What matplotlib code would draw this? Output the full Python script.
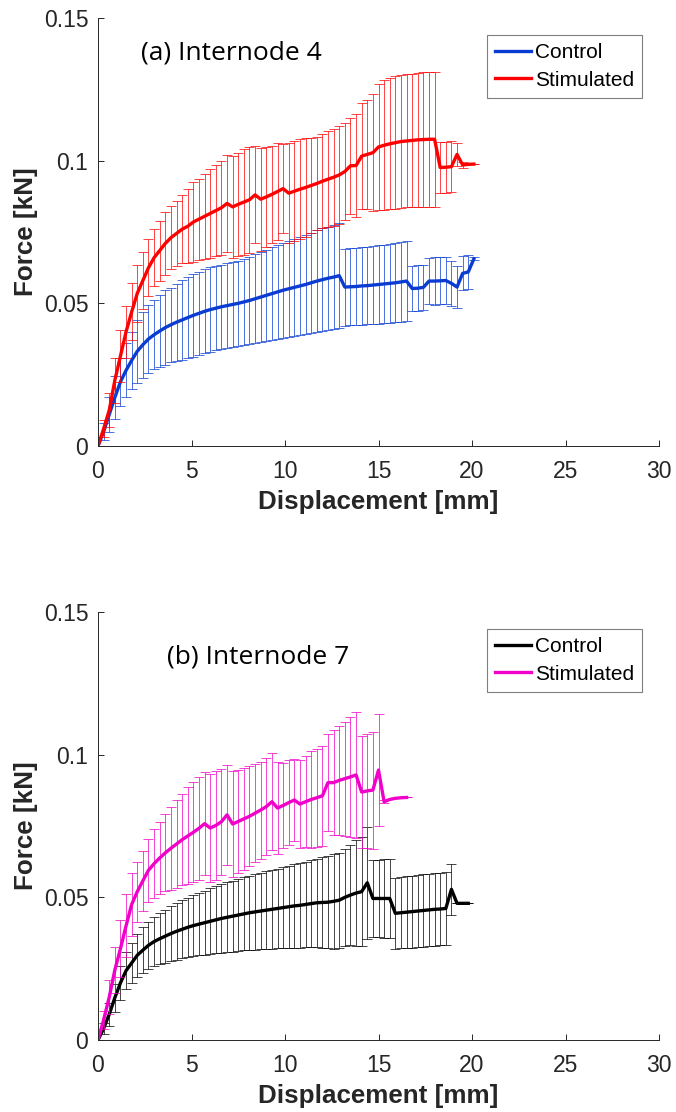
import matplotlib
matplotlib.use("Agg")
from matplotlib import pyplot as plt

# displacement grid [mm]
disp_a = [0.0, 0.3, 0.6, 0.9, 1.2, 1.5, 1.8, 2.1, 2.4, 2.7,
          3.0, 3.3, 3.6, 3.9, 4.2, 4.5, 4.8, 5.1, 5.4, 5.7,
          6.0, 6.3, 6.6, 6.9, 7.2, 7.5, 7.8, 8.1, 8.4, 8.7,
          9.0, 9.3, 9.6, 9.9, 10.2, 10.5, 10.8, 11.1, 11.4, 11.7,
          12.0, 12.3, 12.6, 12.9, 13.2, 13.5, 13.8, 14.1, 14.4, 14.7,
          15.0, 15.3, 15.6, 15.9, 16.2, 16.5, 16.8, 17.1, 17.4, 17.7,
          18.0, 18.3, 18.6, 18.9, 19.2, 19.5, 19.8, 20.1]

# (a) Internode 4
ctrl4_mean = [0, 0.005, 0.011, 0.017, 0.0225, 0.0265, 0.030, 0.0332, 0.0355, 0.0375,
              0.039, 0.0403, 0.0415, 0.0425, 0.0434, 0.0442, 0.045, 0.0458, 0.0465, 0.0472,
              0.0478, 0.0483, 0.0488, 0.0492, 0.0496, 0.050, 0.0505, 0.051, 0.0516, 0.0522,
              0.0528, 0.0534, 0.054, 0.0546, 0.0551, 0.0556, 0.0561, 0.0566, 0.0572, 0.0578,
              0.0583, 0.0588, 0.0592, 0.0597, 0.0557, 0.0558, 0.0559, 0.0561, 0.0562, 0.0564,
              0.0566, 0.0568, 0.057, 0.0572, 0.0575, 0.0578, 0.0552, 0.0553, 0.0556, 0.0578,
              0.0578, 0.0579, 0.058, 0.057, 0.0557, 0.0605, 0.061, 0.0656]
ctrl4_err = [0, 0.003, 0.006, 0.0075, 0.0085, 0.0095, 0.010, 0.011, 0.0115, 0.012,
             0.012, 0.0125, 0.013, 0.013, 0.0135, 0.014, 0.0143, 0.0145, 0.0146, 0.0147,
             0.0148, 0.0148, 0.0148, 0.0148, 0.0149, 0.015, 0.0152, 0.0154, 0.0156, 0.0158,
             0.016, 0.0162, 0.0164, 0.0166, 0.0168, 0.017, 0.0172, 0.0174, 0.0176, 0.0178,
             0.018, 0.018, 0.0182, 0.0183, 0.0135, 0.0135, 0.0135, 0.0136, 0.0136, 0.0137,
             0.0137, 0.0138, 0.0138, 0.0139, 0.014, 0.014, 0.008, 0.008, 0.008, 0.0082,
             0.0083, 0.0083, 0.0083, 0.008, 0.0075, 0.006, 0.006, 0.0005]
stim4_mean = [0, 0.006, 0.0125, 0.023, 0.0315, 0.040, 0.047, 0.0535, 0.058, 0.0625,
              0.066, 0.0685, 0.071, 0.073, 0.0745, 0.076, 0.077, 0.0785, 0.0795, 0.0805,
              0.0815, 0.0825, 0.0835, 0.085, 0.0838, 0.0847, 0.0855, 0.0863, 0.088, 0.0865,
              0.0873, 0.0882, 0.0892, 0.0902, 0.0886, 0.0893, 0.09, 0.0906, 0.0913, 0.092,
              0.0928, 0.0935, 0.0942, 0.095, 0.0962, 0.0982, 0.0983, 0.1016, 0.1022, 0.1028,
              0.1048, 0.1054, 0.1059, 0.1063, 0.1067, 0.1069, 0.1071, 0.1073, 0.1074, 0.1075,
              0.1075, 0.0976, 0.0977, 0.0979, 0.1022, 0.0985, 0.0987, 0.0988]
stim4_err = [0, 0.003, 0.006, 0.008, 0.009, 0.009, 0.010, 0.010, 0.010, 0.010,
             0.010, 0.0105, 0.011, 0.011, 0.0115, 0.012, 0.013, 0.014, 0.0142, 0.015,
             0.0155, 0.016, 0.0165, 0.017, 0.018, 0.018, 0.0185, 0.0185, 0.017, 0.018,
             0.0175, 0.017, 0.017, 0.0155, 0.0175, 0.0175, 0.0175, 0.0172, 0.0165, 0.0163,
             0.0165, 0.0168, 0.017, 0.0172, 0.017, 0.0168, 0.018, 0.0185, 0.019, 0.0205,
             0.0222, 0.0228, 0.0229, 0.0232, 0.0233, 0.0233, 0.0234, 0.0235, 0.0236, 0.0236,
             0.0236, 0.009, 0.009, 0.009, 0.004, 0.001, 0.0, 0.0]

# (b) Internode 7
ctrl7_mean = [0, 0.004, 0.009, 0.0148, 0.020, 0.0243, 0.027, 0.0297, 0.0315, 0.0332,
              0.0345, 0.0355, 0.0364, 0.0373, 0.0381, 0.0388, 0.0395, 0.0401, 0.0406, 0.0411,
              0.0416, 0.0421, 0.0426, 0.043, 0.0434, 0.0438, 0.0442, 0.0446, 0.0449, 0.0452,
              0.0455, 0.0458, 0.0461, 0.0464, 0.0467, 0.047, 0.0472, 0.0475, 0.0478, 0.0481,
              0.0482, 0.0483, 0.0486, 0.049, 0.050, 0.0508, 0.0515, 0.052, 0.0551, 0.0496,
              0.0496, 0.0496, 0.0496, 0.0444, 0.0446, 0.0448, 0.045, 0.0452, 0.0454, 0.0456,
              0.0458, 0.0459, 0.0461, 0.0528, 0.0479, 0.0479, 0.0479]
ctrl7_err = [0, 0.002, 0.004, 0.005, 0.006, 0.0065, 0.007, 0.0075, 0.008, 0.0083,
             0.0086, 0.009, 0.0093, 0.0096, 0.0099, 0.0102, 0.0104, 0.0106, 0.0109, 0.0112,
             0.0115, 0.0117, 0.012, 0.0122, 0.0124, 0.0126, 0.0128, 0.013, 0.0132, 0.0134,
             0.0136, 0.0138, 0.014, 0.0142, 0.0144, 0.0146, 0.0148, 0.015, 0.0152, 0.0155,
             0.0158, 0.0162, 0.0166, 0.0166, 0.017, 0.0175, 0.0185, 0.019, 0.0197, 0.0134,
             0.0136, 0.0138, 0.014, 0.0125, 0.0125, 0.0126, 0.0126, 0.0126, 0.0127, 0.0127,
             0.0127, 0.0127, 0.0127, 0.009, 0.0, 0.0, 0.0]
stim7_mean = [0, 0.007, 0.015, 0.0245, 0.032, 0.040, 0.0475, 0.052, 0.0558, 0.0595,
              0.0618, 0.0638, 0.0656, 0.0672, 0.0687, 0.0702, 0.0715, 0.0728, 0.0742, 0.0758,
              0.0743, 0.0752, 0.0765, 0.0789, 0.0757, 0.0766, 0.0775, 0.0784, 0.0795, 0.0806,
              0.0818, 0.0835, 0.0813, 0.0822, 0.0832, 0.0841, 0.0827, 0.0835, 0.0843, 0.0849,
              0.0856, 0.0902, 0.0902, 0.091, 0.0916, 0.0922, 0.0929, 0.0869, 0.0873, 0.0876,
              0.0946, 0.0835, 0.0843, 0.0847, 0.0849, 0.085]
stim7_err = [0, 0.003, 0.006, 0.008, 0.010, 0.011, 0.011, 0.0105, 0.0105, 0.011,
             0.012, 0.0125, 0.0135, 0.0145, 0.0155, 0.016, 0.017, 0.0175, 0.018, 0.018,
             0.019, 0.019, 0.0185, 0.0175, 0.0185, 0.018, 0.0178, 0.0175, 0.0172, 0.017,
             0.017, 0.017, 0.016, 0.015, 0.0148, 0.0145, 0.0155, 0.016, 0.017, 0.0172,
             0.0175, 0.017, 0.0185, 0.019, 0.020, 0.021, 0.022, 0.0196, 0.020, 0.0205,
             0.0196, 0.0005, 0.0, 0.0, 0.0, 0.0]

x_ticks = [0, 5, 10, 15, 20, 25, 30]
y_ticks = [0, 0.05, 0.1, 0.15]
y_tick_labels = ["0", "0.05", "0.1", "0.15"]

plt.rcParams["font.family"] = ["Liberation Sans", "DejaVu Sans"]
axis_grey = "#262626"

fig = plt.figure(figsize=(6.76, 11.12), dpi=100)
W, H = 676, 1112
ax_a = fig.add_axes([98 / W, 1 - 446 / H, 561 / W, 428 / H])
ax_b = fig.add_axes([98 / W, 1 - 1040 / H, 561 / W, 428 / H])

panels = [
    (ax_a, "(a) Internode 4", (2.3, 0.1377),
     [(disp_a, ctrl4_mean, ctrl4_err, "#0a3cd2", "Control"),
      (disp_a, stim4_mean, stim4_err, "#ff0000", "Stimulated")]),
    (ax_b, "(b) Internode 7", (3.7, 0.1343),
     [(disp_a[:len(ctrl7_mean)], ctrl7_mean, ctrl7_err, "#000000", "Control"),
      (disp_a[:len(stim7_mean)], stim7_mean, stim7_err, "#f000c8", "Stimulated")]),
]

for ax, title, title_pos, series in panels:
    handles = []
    for x, m, e, c, lab in series:
        ax.errorbar(x, m, yerr=e, fmt="none", ecolor=c, elinewidth=0.6,
                    capsize=3.4, capthick=0.6, alpha=0.85)
        h, = ax.plot(x, m, color=c, lw=2.4, label=lab)
        handles.append(h)

    ax.set_xlim(0, 30)
    ax.set_ylim(0, 0.15)
    ax.set_xticks(x_ticks)
    ax.set_yticks(y_ticks)
    ax.set_yticklabels(y_tick_labels)
    ax.spines["top"].set_visible(False)
    ax.spines["right"].set_visible(False)
    for s in ("left", "bottom"):
        ax.spines[s].set_color(axis_grey)
        ax.spines[s].set_linewidth(0.7)
    ax.tick_params(direction="in", length=4, width=0.7, colors=axis_grey,
                   labelsize=16.5)
    ax.tick_params(axis="x", pad=10)
    ax.tick_params(axis="y", pad=7)
    ax.set_xlabel("Displacement [mm]", fontsize=18.7, fontweight="bold",
                  color=axis_grey, labelpad=5)
    ax.set_ylabel("Force [kN]", fontsize=18.7, fontweight="bold",
                  color=axis_grey, labelpad=4)

    ax.text(title_pos[0], title_pos[1], title, fontsize=19,
            family="Open Sans", va="center", ha="left")

    leg = ax.legend(handles=handles, loc="upper right", bbox_to_anchor=(0.97, 0.96),
                    borderaxespad=0, fontsize=15, handlelength=1.7,
                    handletextpad=0.2, labelspacing=0.4, borderpad=0.4,
                    fancybox=False, framealpha=1, edgecolor="#7f7f7f")
    leg.get_frame().set_linewidth(0.8)

fig.savefig("out.png", dpi=100)
